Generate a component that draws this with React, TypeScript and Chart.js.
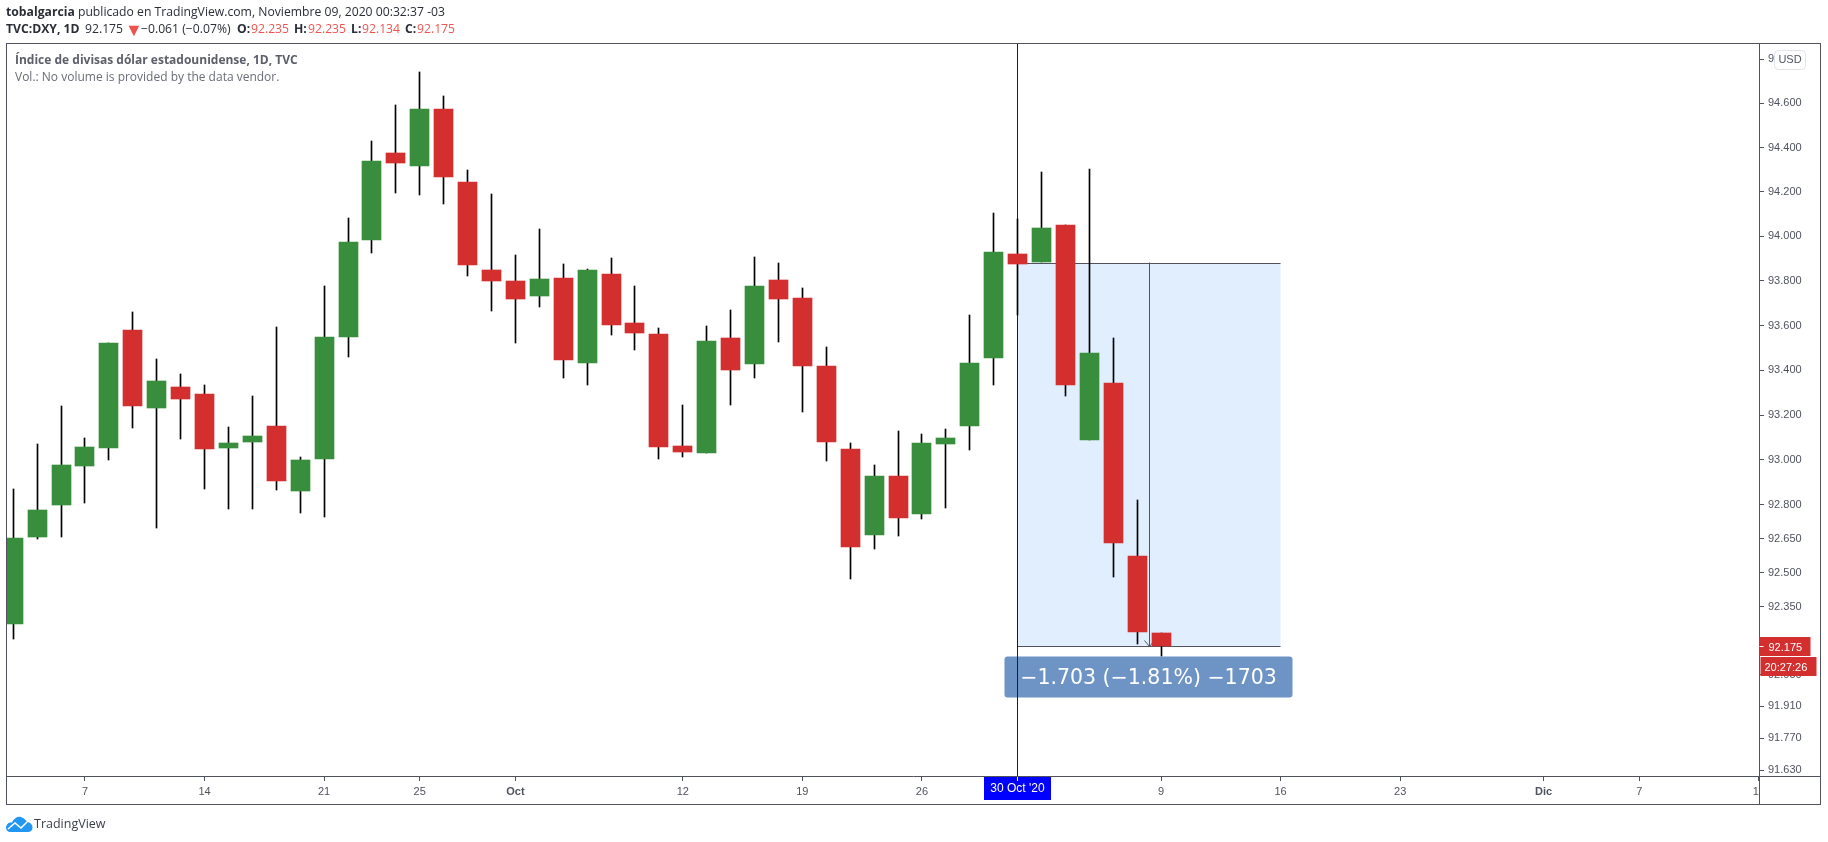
import React, { useEffect, useRef } from "react";
import Chart from "chart.js/auto";

// daily candles
const opens = [92.275, 92.658, 92.8, 92.972, 93.052, 93.581, 93.23, 93.327, 93.296, 93.052, 93.079, 93.15, 92.862, 93.003, 93.55, 93.983, 94.378, 94.315, 94.576, 94.243, 93.849, 93.8, 93.733, 93.813, 93.434, 93.831, 93.612, 93.563, 93.061, 93.03, 93.545, 93.43, 93.804, 93.724, 93.421, 93.048, 92.667, 92.928, 92.76, 93.07, 93.15, 93.456, 93.921, 93.885, 94.05, 93.088, 93.345, 92.575, 92.235];
const highs = [92.871, 93.07, 93.239, 93.096, 93.523, 93.661, 93.452, 93.385, 93.332, 93.145, 93.287, 93.594, 93.012, 93.777, 94.082, 94.428, 94.594, 94.743, 94.635, 94.297, 94.189, 93.916, 94.033, 93.876, 93.854, 93.903, 93.777, 93.59, 93.243, 93.599, 93.67, 93.907, 93.88, 93.769, 93.505, 93.074, 92.977, 93.128, 93.114, 93.136, 93.648, 94.104, 94.077, 94.288, 94.05, 94.302, 93.545, 92.822, 92.235];
const lows = [92.205, 92.65, 92.658, 92.809, 92.999, 93.141, 92.698, 93.092, 92.871, 92.782, 92.782, 92.866, 92.765, 92.747, 93.461, 93.925, 94.194, 94.185, 94.145, 93.822, 93.666, 93.523, 93.684, 93.367, 93.332, 93.559, 93.492, 93.003, 93.012, 93.03, 93.243, 93.367, 93.528, 93.212, 92.995, 92.473, 92.606, 92.663, 92.738, 92.787, 93.043, 93.332, 93.648, 93.885, 93.287, 93.088, 92.482, 92.183, 92.134];
const closes = [92.654, 92.778, 92.977, 93.057, 93.523, 93.239, 93.354, 93.27, 93.048, 93.074, 93.105, 92.906, 92.999, 93.55, 93.974, 94.342, 94.329, 94.576, 94.266, 93.871, 93.8, 93.719, 93.809, 93.448, 93.849, 93.603, 93.568, 93.057, 93.034, 93.532, 93.399, 93.777, 93.719, 93.421, 93.079, 92.614, 92.928, 92.742, 93.074, 93.096, 93.434, 93.93, 93.876, 94.037, 93.336, 93.479, 92.632, 92.236, 92.175];

const priceTicks = [94.8, 94.6, 94.4, 94.2, 94.0, 93.8, 93.6, 93.4, 93.2, 93.0, 92.8, 92.65, 92.5, 92.35, 92.05, 91.91, 91.77, 91.63];
const timeTickBars = [3, 8, 13, 17, 21, 28, 33, 38, 48, 53, 58, 64, 68, 73];
const timeTickLabels = ["7", "14", "21", "25", "Oct", "12", "19", "26", "9", "16", "23", "Dic", "7", "14"];
const boldTimeLabels = ["Oct", "Dic"];

const lastPrice = 92.175;
const measureFromBar = 42;
const measureToBar = 53;
const measureFromPrice = 93.878;
const measureLabel = "\u22121.703 (\u22121.81%) \u22121703";
const crosshairBar = 42;
const crosshairLabel = "30 Oct '20";
const countdownLabel = "20:27:26";

const GREEN = "#388e3c";
const RED = "#d32f2f";
const FRAME = "#50535e";
const AXIS_FONT = "Liberation Sans";
const TEXT_FONT = "Open Sans";

const drawMeasure = {
  id: "drawMeasure",
  // crisp candles, same as the original pixel-snapped bars
  afterDatasetsUpdate(chart: any) {
    chart.getSortedVisibleDatasetMetas().forEach((meta: any) => {
      meta.data.forEach((el: any) => {
        el.x = Math.floor(el.x) + 0.5;
        el.y = Math.round(el.y);
        el.base = Math.round(el.base);
      });
    });
  },
  beforeDatasetsDraw(chart: any) {
    const { ctx, scales, chartArea } = chart;
    const left = Math.floor(scales.x.getPixelForValue(measureFromBar)) + 0.5;
    const right = Math.floor(scales.x.getPixelForValue(measureToBar)) + 0.5;
    const top = Math.floor(scales.y.getPixelForValue(measureFromPrice)) + 0.5;
    const bottom = Math.floor(scales.y.getPixelForValue(lastPrice)) + 0.5;
    const mid = Math.floor((left + right) / 2) + 0.5;

    ctx.save();
    ctx.fillStyle = "#e1eefe";
    ctx.fillRect(left, top, right - left, bottom - top);

    ctx.strokeStyle = FRAME;
    ctx.lineWidth = 1;
    ctx.beginPath();
    ctx.moveTo(left, top);
    ctx.lineTo(right, top);
    ctx.moveTo(left, bottom);
    ctx.lineTo(right, bottom);
    ctx.moveTo(mid, top - 1);
    ctx.lineTo(mid, bottom);
    ctx.moveTo(mid - 5, bottom - 6);
    ctx.lineTo(mid, bottom);
    ctx.lineTo(mid + 5, bottom - 6);
    ctx.stroke();

    // result label under the box
    ctx.fillStyle = "#6e93c5";
    ctx.beginPath();
    ctx.roundRect(mid - 145, bottom + 10, 288, 41, 3);
    ctx.fill();
    ctx.fillStyle = "#ffffff";
    ctx.font = "20.5px 'DejaVu Sans'";
    ctx.textAlign = "center";
    ctx.textBaseline = "middle";
    ctx.fillText(measureLabel, mid - 1, bottom + 32);

    ctx.strokeStyle = "#0000ff";
    ctx.beginPath();
    ctx.moveTo(left, chartArea.top);
    ctx.lineTo(left, chartArea.bottom);
    ctx.stroke();
    ctx.restore();
  },
  afterDraw(chart: any) {
    const { ctx, scales, chartArea, width, height } = chart;
    const frameLeft = 6.5;
    const frameTop = 43.5;
    const frameRight = width - 7.5;
    const frameBottom = height - 37.5;
    const axisX = chartArea.right + 0.5;
    const axisY = chartArea.bottom - 0.5;

    ctx.save();
    // the price axis corner hides whatever sticks out of the time axis
    ctx.fillStyle = "#ffffff";
    ctx.fillRect(axisX, axisY, frameRight - axisX, frameBottom - axisY);

    ctx.strokeStyle = FRAME;
    ctx.lineWidth = 1;
    ctx.strokeRect(frameLeft, frameTop, frameRight - frameLeft, frameBottom - frameTop);
    ctx.beginPath();
    ctx.moveTo(axisX, frameTop);
    ctx.lineTo(axisX, frameBottom);
    ctx.moveTo(frameLeft, axisY);
    ctx.lineTo(frameRight, axisY);
    ctx.stroke();

    ctx.textAlign = "left";
    ctx.textBaseline = "middle";
    ctx.font = `11px '${AXIS_FONT}'`;

    // last price and countdown
    const lastY = Math.floor(scales.y.getPixelForValue(lastPrice)) + 0.5;
    ctx.fillStyle = RED;
    ctx.fillRect(axisX, lastY - 9.5, 51, 19);
    ctx.fillRect(axisX + 1, lastY + 10.5, 56, 19);
    ctx.fillStyle = "#ffffff";
    ctx.fillRect(axisX, lastY - 0.5, 4, 1);
    ctx.fillText(lastPrice.toFixed(3), axisX + 9, lastY + 1);
    ctx.fillText(countdownLabel, axisX + 5, lastY + 21);

    // crosshair date
    const crossX = Math.floor(scales.x.getPixelForValue(crosshairBar)) + 0.5;
    ctx.fillStyle = "#0000ff";
    ctx.fillRect(crossX - 33.5, chartArea.bottom, 67, 23);
    ctx.fillStyle = "#ffffff";
    ctx.fillRect(crossX - 0.5, chartArea.bottom, 1, 4);
    ctx.textAlign = "center";
    ctx.font = `12px '${AXIS_FONT}'`;
    ctx.fillText(crosshairLabel, crossX, chartArea.bottom + 12);

    // currency button
    ctx.fillStyle = "#ffffff";
    ctx.strokeStyle = "#e0e3eb";
    ctx.beginPath();
    ctx.roundRect(1774.5, 50.5, 31, 19, 4);
    ctx.fill();
    ctx.stroke();
    ctx.fillStyle = FRAME;
    ctx.font = `11px '${AXIS_FONT}'`;
    ctx.fillText("USD", 1790, 60);
    ctx.restore();
  },
};

const App: React.FC = () => {
  const chartRef = useRef<HTMLCanvasElement>(null);
  const chartInstance = useRef<Chart | null>(null);

  useEffect(() => {
    if (chartRef.current) {
      const ctx = chartRef.current.getContext("2d");

      if (ctx) {
        if (chartInstance.current) {
          chartInstance.current.destroy();
        }

        chartInstance.current = new Chart(ctx, {
          type: "bar",
          data: {
            datasets: [
              {
                label: "Body",
                data: opens.map((o, i) => ({ x: i, y: [o, closes[i]] })),
                backgroundColor: opens.map((o, i) => (closes[i] >= o ? GREEN : RED)),
                barThickness: 19,
                grouped: false,
                order: 1,
              },
              {
                label: "Wick",
                data: lows.map((l, i) => ({ x: i, y: [l, highs[i]] })),
                backgroundColor: "#000000",
                barThickness: 1,
                grouped: false,
                order: 2,
              },
            ] as any,
          },
          options: {
            responsive: false,
            animation: false,
            devicePixelRatio: 1,
            layout: { padding: { left: 7, top: 43, right: 7, bottom: 37 } },
            plugins: {
              legend: { display: false },
              tooltip: { enabled: false },
            },
            scales: {
              x: {
                type: "linear",
                offset: false,
                min: -0.26,
                max: 73.005,
                afterBuildTicks: (scale: any) => {
                  scale.ticks = timeTickBars.map((value) => ({ value }));
                },
                afterFit: (scale: any) => {
                  scale.height = 28;
                },
                grid: {
                  offset: false,
                  drawOnChartArea: false,
                  tickLength: 4,
                  tickColor: FRAME,
                },
                border: { display: false },
                ticks: {
                  autoSkip: false,
                  maxRotation: 0,
                  padding: 4,
                  color: FRAME,
                  callback: (value: any) => timeTickLabels[timeTickBars.indexOf(value)],
                  font: (c: any) => {
                    const label = timeTickLabels[c.index];
                    return {
                      family: AXIS_FONT,
                      size: 11,
                      weight: boldTimeLabels.includes(label) ? "bold" : "normal",
                    };
                  },
                },
              },
              y: {
                type: "logarithmic",
                position: "right",
                min: 91.6134,
                max: 94.8739,
                afterBuildTicks: (scale: any) => {
                  scale.ticks = priceTicks.map((value) => ({ value }));
                },
                afterFit: (scale: any) => {
                  scale.width = 62;
                },
                grid: {
                  drawOnChartArea: false,
                  tickLength: 5,
                  tickColor: FRAME,
                },
                border: { display: false },
                ticks: {
                  autoSkip: false,
                  padding: 4,
                  color: FRAME,
                  font: { family: AXIS_FONT, size: 11 },
                  callback: (value: any) => Number(value).toFixed(3),
                },
              },
            },
          } as any,
          plugins: [drawMeasure],
        });
      }
    }

    return () => {
      if (chartInstance.current) {
        chartInstance.current.destroy();
      }
    };
  }, []);

  const line: React.CSSProperties = {
    position: "absolute",
    whiteSpace: "pre",
    fontFamily: TEXT_FONT,
    lineHeight: "18px",
  };
  const headerText: React.CSSProperties = { ...line, fontSize: 12.2, color: "#2b2e38" };
  const secondLine: React.CSSProperties = { ...headerText, top: 20 };
  const redValue: React.CSSProperties = { ...secondLine, color: "#ef5350" };

  return (
    <div style={{ position: "absolute", left: 0, top: 0, width: 1828, height: 842, background: "#fff", overflow: "hidden" }}>
      <canvas ref={chartRef} width={1828} height={842} style={{ display: "block" }} />
      <div style={{ ...headerText, left: 6, top: 3 }}>
        <b>tobalgarcia</b> publicado en TradingView.com, Noviembre 09, 2020 00:32:37 -03
      </div>
      <b style={{ ...secondLine, left: 6 }}>TVC:DXY, 1D</b>
      <span style={{ ...secondLine, left: 85 }}>92.175</span>
      <span style={{ ...redValue, left: 125, fontSize: 18 }}>▼</span>
      <span style={{ ...secondLine, left: 141 }}>−0.061 (−0.07%)</span>
      <b style={{ ...secondLine, left: 237 }}>O:</b>
      <span style={{ ...redValue, left: 251 }}>92.235</span>
      <b style={{ ...secondLine, left: 294 }}>H:</b>
      <span style={{ ...redValue, left: 308 }}>92.235</span>
      <b style={{ ...secondLine, left: 351 }}>L:</b>
      <span style={{ ...redValue, left: 362 }}>92.134</span>
      <b style={{ ...secondLine, left: 405 }}>C:</b>
      <span style={{ ...redValue, left: 417 }}>92.175</span>
      <div style={{ ...line, left: 15, top: 51, fontSize: 12, fontWeight: 700, color: "#5d606b" }}>
        Índice de divisas dólar estadounidense, 1D, TVC
      </div>
      <div style={{ ...line, left: 15, top: 68, fontSize: 12, color: "#6a6d78" }}>
        Vol.: No volume is provided by the data vendor.
      </div>
      <svg width="27" height="16" viewBox="0 0 27 16" style={{ position: "absolute", left: 6, top: 816 }}>
        <path d="M0 12 C0 8 3 6 6 6.5 C8 2 12 0 15 1 C18 2 20 4 21 6 C24 6 27 9 26.5 12 C26 15 24 16 22 16 L4 16 C2 16 0 14 0 12 Z" fill="#2196f3" />
        <path d="M2 13 L9 7 L15 12 L21 6" fill="none" stroke="#fff" strokeWidth="1.6" />
      </svg>
      <div style={{ ...line, left: 34, top: 815, fontSize: 12.5, color: "#3c3f4a" }}>TradingView</div>
    </div>
  );
};

export default App;
